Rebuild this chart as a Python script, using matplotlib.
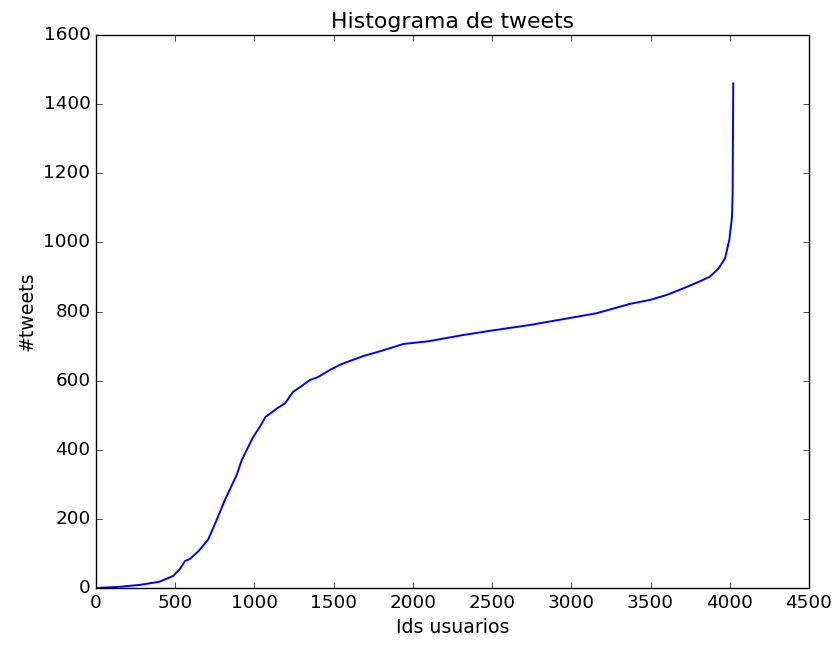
import matplotlib
matplotlib.use("Agg")
import matplotlib.pyplot as plt

# sorted tweet counts per user
ids = [0, 140, 278, 400, 488, 530, 562, 593, 650, 709, 760, 814, 850, 888, 920, 951,
       990, 1035, 1070, 1109, 1150, 1193, 1220, 1245, 1300, 1351, 1400, 1477, 1550,
       1687, 1800, 1940, 2100, 2318, 2500, 2739, 2950, 3160, 3370, 3500, 3602, 3707,
       3800, 3875, 3930, 3970, 3997, 4014, 4018, 4020, 4022]
tweets = [0, 3, 9, 18, 35, 55, 78, 84, 108, 141, 195, 255, 290, 327, 370, 399,
          435, 467, 495, 508, 522, 534, 552, 568, 585, 602, 610, 631, 648,
          671, 686, 706, 714, 732, 745, 761, 778, 795, 822, 834, 848, 867,
          885, 901, 925, 954, 1007, 1074, 1140, 1300, 1460]

plt.style.use('classic')
plt.rcParams['font.size'] = 13.2
fig = plt.figure(figsize=(8.36, 6.45), dpi=100, facecolor='white')
ax = fig.add_axes([0.1148, 0.0884, 0.8529, 0.8573])
ax.plot(ids, tweets, 'b-', lw=1.4)
ax.set_xlim(0, 4500)
ax.set_ylim(0, 1600)
ax.set_title("Histograma de tweets", fontsize=15.8)
ax.set_xlabel("Ids usuarios", fontsize=13.6)
ax.set_ylabel("#tweets", fontsize=13.6)
fig.savefig("out.png", dpi=100, facecolor='white')
